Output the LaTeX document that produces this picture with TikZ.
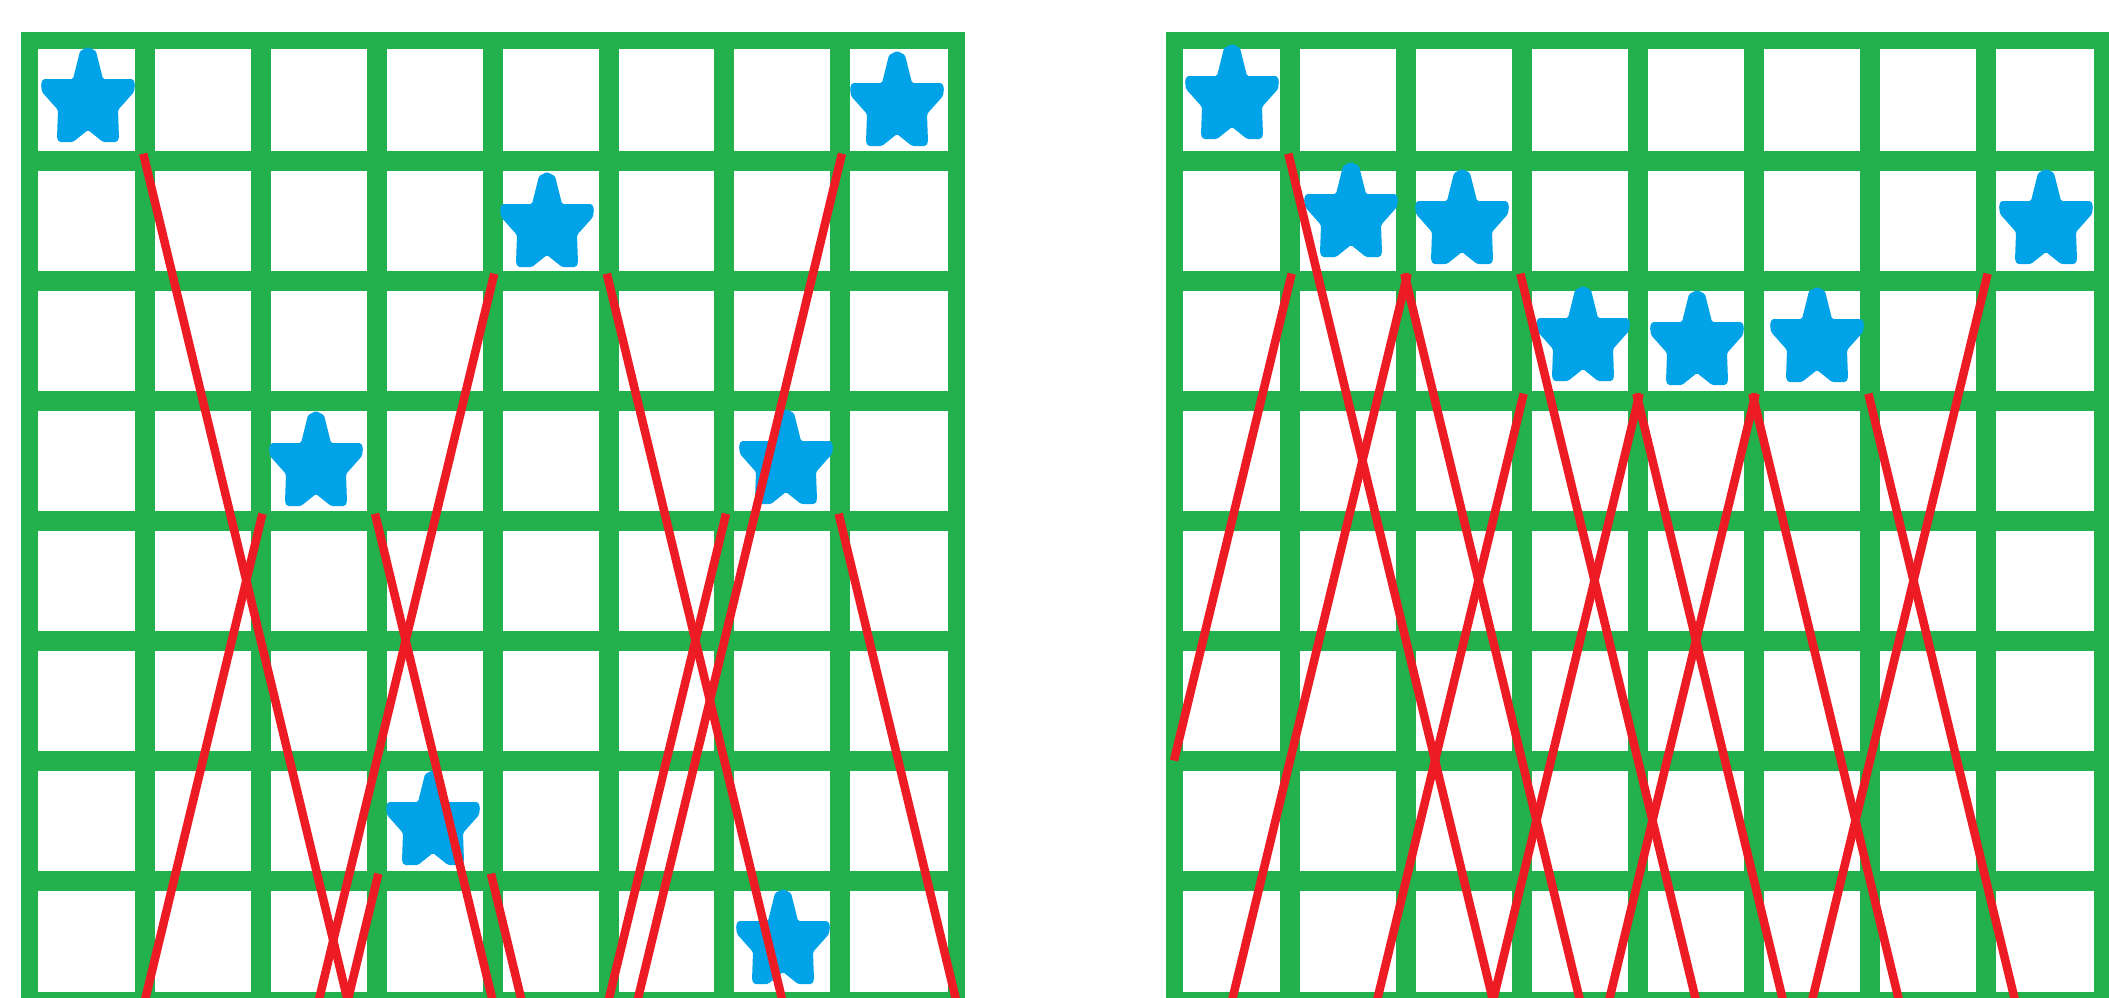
\documentclass[tikz,border=0pt]{standalone}
\begin{document}
\definecolor{pgreen}{RGB}{34,177,76}
\definecolor{pred}{RGB}{237,28,36}
\definecolor{pblue}{RGB}{0,162,232}
\tikzset{
  gline/.style={draw=pgreen, line width=20pt},
  gborder/.style={draw=pgreen, line width=17pt},
  rline/.style={draw=pred, line width=8.5pt, shorten <=-7pt},
  bstar/.pic={\fill[pblue, rounded corners=1.5pt]
    (0,-48) -- (8,-44) -- (15,-16) -- (45,-16) -- (47,-11) -- (46,-3) --
    (30,15) -- (31,43) -- (29,47) -- (15,47) -- (0,35) -- (-15,47) --
    (-29,47) -- (-31,43) -- (-30,15) -- (-46,-3) -- (-47,-11) -- (-45,-16) --
    (-15,-16) -- (-8,-44) -- cycle;}
}
\begin{tikzpicture}[x=1pt,y=-1pt]
\useasboundingbox (0,0) rectangle (2109,997);
\clip (0,0) rectangle (2109,997);
% left grid
\begin{scope}[shift={(29,40.5)}, x=115.9pt, y=-120pt]
  \foreach \i in {1,...,7} {\draw[gline] (\i,0) -- (\i,8);}
  \foreach \j in {1,...,7} {\draw[gline] (0,\j) -- (8,\j);}
  \draw[gborder] (0,0) rectangle (8,8);
  \foreach \n/\a/\b/\c/\d in {1/1/1/2.75/8, 2/7/1/5.25/8, 3/4/2/2.5/8, 4/5/2/6.5/8,
      5/2/4/1/8, 6/3/4/4/8, 7/6/4/5/8, 8/7/4/8/8, 9/3/7/2.75/8, 10/4/7/4.25/8}
    {\coordinate (Ls\n) at (\a,\b); \coordinate (Le\n) at (\c,\d);}
\end{scope}
% right grid
\begin{scope}[shift={(1174,40.5)}, x=116pt, y=-120pt]
  \foreach \i in {1,...,7} {\draw[gline] (\i,0) -- (\i,8);}
  \foreach \j in {1,...,7} {\draw[gline] (0,\j) -- (8,\j);}
  \draw[gborder] (0,0) rectangle (8,8);
  \foreach \n/\a/\b/\c/\d in {1/1/1/2.75/8, 2/1/2/0/6, 3/2/2/3.5/8, 4/2/2/0.5/8,
      5/3/2/4.5/8, 6/7/2/5.5/8, 7/3/3/1.75/8, 8/4/3/5.25/8, 9/4/3/2.75/8,
      10/5/3/6.25/8, 11/5/3/3.75/8, 12/6/3/7.25/8}
    {\coordinate (Rs\n) at (\a,\b); \coordinate (Re\n) at (\c,\d);}
\end{scope}
% stars
\pic (sl1) at (88,95) {bstar};
\pic (sl2) at (897,99) {bstar};
\pic (sl3) at (547,220) {bstar};
\pic (sl4) at (316,459) {bstar};
\pic (sl5) at (786,457) {bstar};
\pic (sl6) at (433,818) {bstar};
\pic (sl7) at (783,937) {bstar};
\pic (sr1) at (1232,92) {bstar};
\pic (sr2) at (1351,210) {bstar};
\pic (sr3) at (1462,217) {bstar};
\pic (sr4) at (2046,217) {bstar};
\pic (sr5) at (1583,334) {bstar};
\pic (sr6) at (1697,338) {bstar};
\pic (sr7) at (1817,335) {bstar};
% red lines
\foreach \n in {1,...,10} {\draw[rline] (Ls\n) -- (Le\n);}
\foreach \n in {1,...,12} {\draw[rline] (Rs\n) -- (Re\n);}
\end{tikzpicture}
\end{document}
